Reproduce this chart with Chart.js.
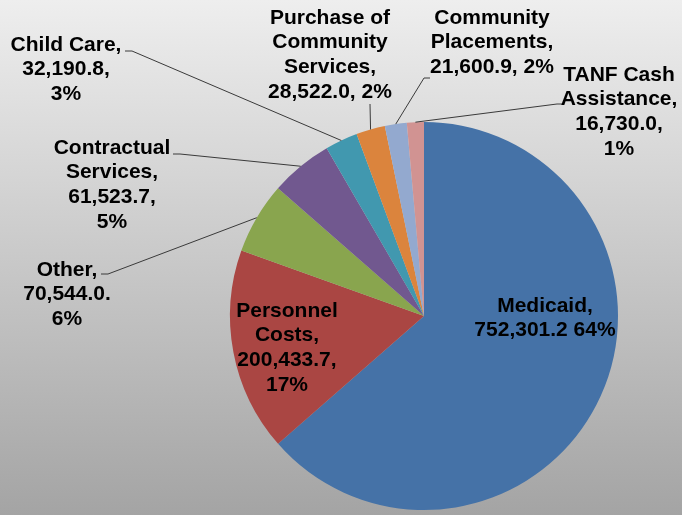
<!DOCTYPE html>
<html>
<head>
<meta charset="utf-8">
<script src="https://cdn.jsdelivr.net/npm/chart.js@4"></script>
<style>
  html, body { margin: 0; padding: 0; }
  body { width: 682px; height: 515px; overflow: hidden; }
</style>
</head>
<body>
<canvas id="pie" width="682" height="515"></canvas>
<script>
// spending by category
const categories = [
  "Medicaid",
  "Personnel Costs",
  "Other",
  "Contractual Services",
  "Child Care",
  "Purchase of Community Services",
  "Community Placements",
  "TANF Cash Assistance",
];
const amounts = [752301.2, 200433.7, 70544.0, 61523.7, 32190.8, 28522.0, 21600.9, 16730.0];
const sliceColors = ["#4572A7", "#AA4643", "#89A54E", "#71588F", "#4198AF", "#DB843D", "#93A9CF", "#D19392"];

// label wording as it appears on the slide ({v} = amount, {p} = percent)
const labelLines = [
  ["Medicaid,", "{v} {p}"],
  ["Personnel", "Costs,", "{v},", "{p}"],
  ["Other,", "{v}.", "{p}"],
  ["Contractual", "Services,", "{v},", "{p}"],
  ["Child Care,", "{v},", "{p}"],
  ["Purchase of", "Community", "Services,", "{v}, {p}"],
  ["Community", "Placements,", "{v}, {p}"],
  ["TANF Cash", "Assistance,", "{v},", "{p}"],
];

// where each label block sits, and where its leader line ends
const labelPlace = [
  { x: 545, y: 306 },
  { x: 287, y: 311 },
  { x: 67, y: 270, elbow: [108, 274], tail: 101 },
  { x: 112, y: 148, elbow: [180, 154], tail: 173 },
  { x: 66, y: 45, elbow: [132, 51], tail: 125 },
  { x: 330, y: 18, elbow: [370, 104] },
  { x: 492, y: 18, elbow: [424, 78], tail: 430 },
  { x: 619, y: 75, elbow: [557, 104], tail: 563 },
];

const total = amounts.reduce((a, b) => a + b, 0);
const fmt = (v) => v.toLocaleString("en-US", { minimumFractionDigits: 1, maximumFractionDigits: 1 });

const backdrop = {
  id: "backdrop",
  beforeDraw(chart) {
    const { ctx, width, height } = chart;
    const g = ctx.createLinearGradient(0, 0, 0, height);
    g.addColorStop(0, "#eeeeee");
    g.addColorStop(1, "#a4a4a4");
    ctx.save();
    ctx.fillStyle = g;
    ctx.fillRect(0, 0, width, height);
    ctx.restore();
  },
};

const sliceLabels = {
  id: "sliceLabels",
  afterDraw(chart) {
    const ctx = chart.ctx;
    const arcs = chart.getDatasetMeta(0).data;
    ctx.save();
    arcs.forEach((arc, i) => {
      const place = labelPlace[i];
      const p = arc.getProps(["x", "y", "startAngle", "endAngle", "outerRadius"], true);
      if (place.elbow) {
        const mid = (p.startAngle + p.endAngle) / 2;
        const sx = p.x + Math.cos(mid) * p.outerRadius;
        const sy = p.y + Math.sin(mid) * p.outerRadius;
        ctx.beginPath();
        ctx.strokeStyle = "#3a3a3a";
        ctx.lineWidth = 1;
        ctx.moveTo(sx, sy);
        ctx.lineTo(place.elbow[0], place.elbow[1]);
        if (place.tail !== undefined) ctx.lineTo(place.tail, place.elbow[1]);
        ctx.stroke();
      }
      const pct = Math.round((amounts[i] / total) * 100) + "%";
      ctx.fillStyle = "#000";
      ctx.font = "bold 21px 'Liberation Sans', Arial, sans-serif";
      ctx.textAlign = "center";
      ctx.textBaseline = "middle";
      labelLines[i].forEach((line, k) => {
        const txt = line.replace("{v}", fmt(amounts[i])).replace("{p}", pct);
        ctx.fillText(txt, place.x, place.y + k * 24.7);
      });
    });
    ctx.restore();
  },
};

new Chart(document.getElementById("pie").getContext("2d"), {
  type: "pie",
  data: {
    labels: categories,
    datasets: [
      {
        data: amounts,
        backgroundColor: sliceColors,
        borderWidth: 0,
      },
    ],
  },
  options: {
    responsive: false,
    animation: false,
    layout: { padding: { top: 122, bottom: 5, left: 230, right: 64 } },
    plugins: {
      legend: { display: false },
      tooltip: { enabled: false },
    },
  },
  plugins: [backdrop, sliceLabels],
});
</script>
</body>
</html>
